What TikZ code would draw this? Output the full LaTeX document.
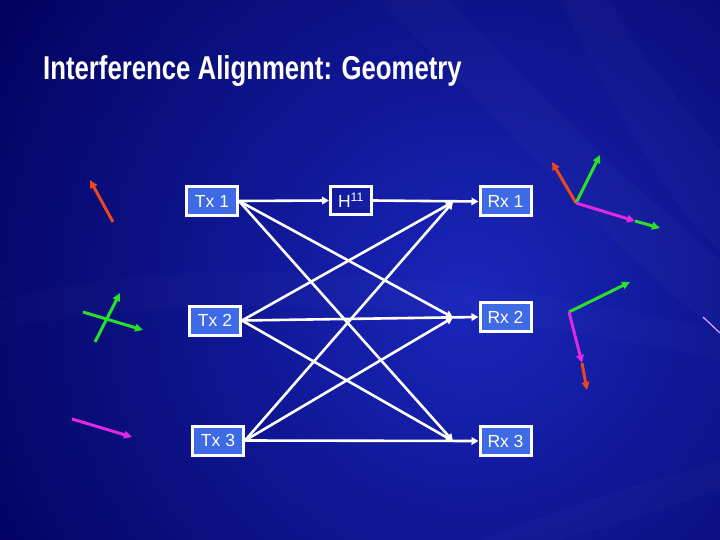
\documentclass[tikz,border=0pt]{standalone}
\usepackage{fontspec}
\setmainfont{Liberation Sans}
\usetikzlibrary{arrows.meta}
\definecolor{bgdark}{RGB}{2,3,96}
\definecolor{bglight}{RGB}{26,38,188}
\definecolor{boxblue}{RGB}{62,106,230}
\definecolor{vred}{RGB}{235,70,30}
\definecolor{vgreen}{RGB}{40,225,40}
\definecolor{vmag}{RGB}{225,40,225}
\definecolor{lav}{RGB}{205,160,255}
\begin{document}
\begin{tikzpicture}[x=1pt,y=-1pt,
  box/.style={draw=white,line width=3pt,fill=boxblue,text=white,
    font=\fontsize{17.5}{20}\selectfont,minimum width=51pt,minimum height=29pt,inner sep=0pt},
  hbox/.style={box,fill=none,minimum width=41pt,minimum height=28pt},
  link/.style={draw=white,line width=2.6pt,-{Triangle[length=7pt,width=7.5pt]}},
  vec/.style={line width=3pt,-{Triangle[length=8pt,width=7.5pt]}}]
\path[use as bounding box] (0,0) rectangle (720,540);
% background
\begin{scope}
  \clip (0,0) rectangle (720,540);
  \fill[bgdark] (0,0) rectangle (720,540);
  \shade[inner color=bglight, outer color=bgdark] (470,300) circle (540pt);
  \fill[white,opacity=0.018] (380,0) .. controls (520,140) and (640,280) .. (720,330) -- (720,260) .. controls (650,200) and (560,120) .. (450,0) -- cycle;
  \fill[white,opacity=0.018] (560,0) .. controls (620,120) and (680,220) .. (720,250) -- (720,150) .. controls (690,110) and (640,60) .. (610,0) -- cycle;
  \fill[white,opacity=0.015] (0,300) .. controls (200,250) and (450,270) .. (720,330) -- (720,360) .. controls (450,300) and (200,290) .. (0,330) -- cycle;
  \fill[white,opacity=0.02] (480,540) .. controls (580,500) and (660,480) .. (720,460) -- (720,490) .. controls (660,510) and (600,530) .. (560,540) -- cycle;
\end{scope}
% title
\node[anchor=base west,inner sep=0pt,text=white,font=\fontsize{33}{36}\selectfont\bfseries] (title) at (43,80) {\scalebox{0.78}[1]{Interference Alignment: Geometry}};
% boxes
\node[box] (tx1) at (212,201) {Tx 1};
\node[box] (tx2) at (215,320.5) {Tx 2};
\node[box] (tx3) at (218,440.5) {Tx 3};
\node[box] (rx1) at (505.5,201.5) {Rx 1};
\node[box] (rx2) at (505.5,317) {Rx 2};
\node[box] (rx3) at (505.5,441) {Rx 3};
\node[hbox] (h11) at (351,200.5) {H\textsuperscript{11}};
% crossing endpoints
\coordinate (e1) at (453,202);
\coordinate (e2) at (453,317.5);
\coordinate (e3) at (453,441);
% direct links
\draw[link] (tx1.east) -- (h11.west);
\draw[link] (h11.east) -- (rx1.west);
\draw[link] (tx2.east) -- (rx2.west);
\draw[link] (tx3.east) -- (rx3.west);
% cross links
\draw[link] (tx1.east) -- (e2);
\draw[link] (tx1.east) -- (e3);
\draw[link] (tx2.east) -- (e1);
\draw[link] (tx2.east) -- (e3);
\draw[link] (tx3.east) -- (e1);
\draw[link] (tx3.east) -- (e2);
% left vectors
\coordinate (lr0) at (113,222); \coordinate (lr1) at (90,180);
\draw[vec,vred] (lr0) -- (lr1);
\coordinate (lg0) at (83,312); \coordinate (lg1) at (143,330);
\coordinate (lg2) at (95,342); \coordinate (lg3) at (120,293);
\draw[vec,vgreen] (lg0) -- (lg1);
\draw[vec,vgreen] (lg2) -- (lg3);
\coordinate (lm0) at (72,419); \coordinate (lm1) at (132,437);
\draw[vec,vmag] (lm0) -- (lm1);
% right cluster 1
\coordinate (o1) at (576,203);
\coordinate (o1r) at (552,162);
\coordinate (o1g) at (600,155);
\coordinate (o1m) at (635,221);
\coordinate (o1g2) at (660,228);
\draw[vec,vred] (o1) -- (o1r);
\draw[vec,vgreen] (o1) -- (o1g);
\draw[vec,vgreen] (o1m) -- (o1g2);
\draw[vec,vmag] (o1) -- (o1m);
% right cluster 2
\coordinate (o2) at (569,312);
\coordinate (o2g) at (630,282);
\coordinate (o2m) at (582,363);
\coordinate (o2r) at (587,390);
\draw[vec,vgreen] (o2) -- (o2g);
\draw[vec,vred] (o2m) -- (o2r);
\draw[vec,vmag] (o2) -- (o2m);
% faint line at right edge
\coordinate (f0) at (703,317); \coordinate (f1) at (720,333);
\draw[lav,line width=1.3pt] (f0) -- (f1);
\end{tikzpicture}
\end{document}
